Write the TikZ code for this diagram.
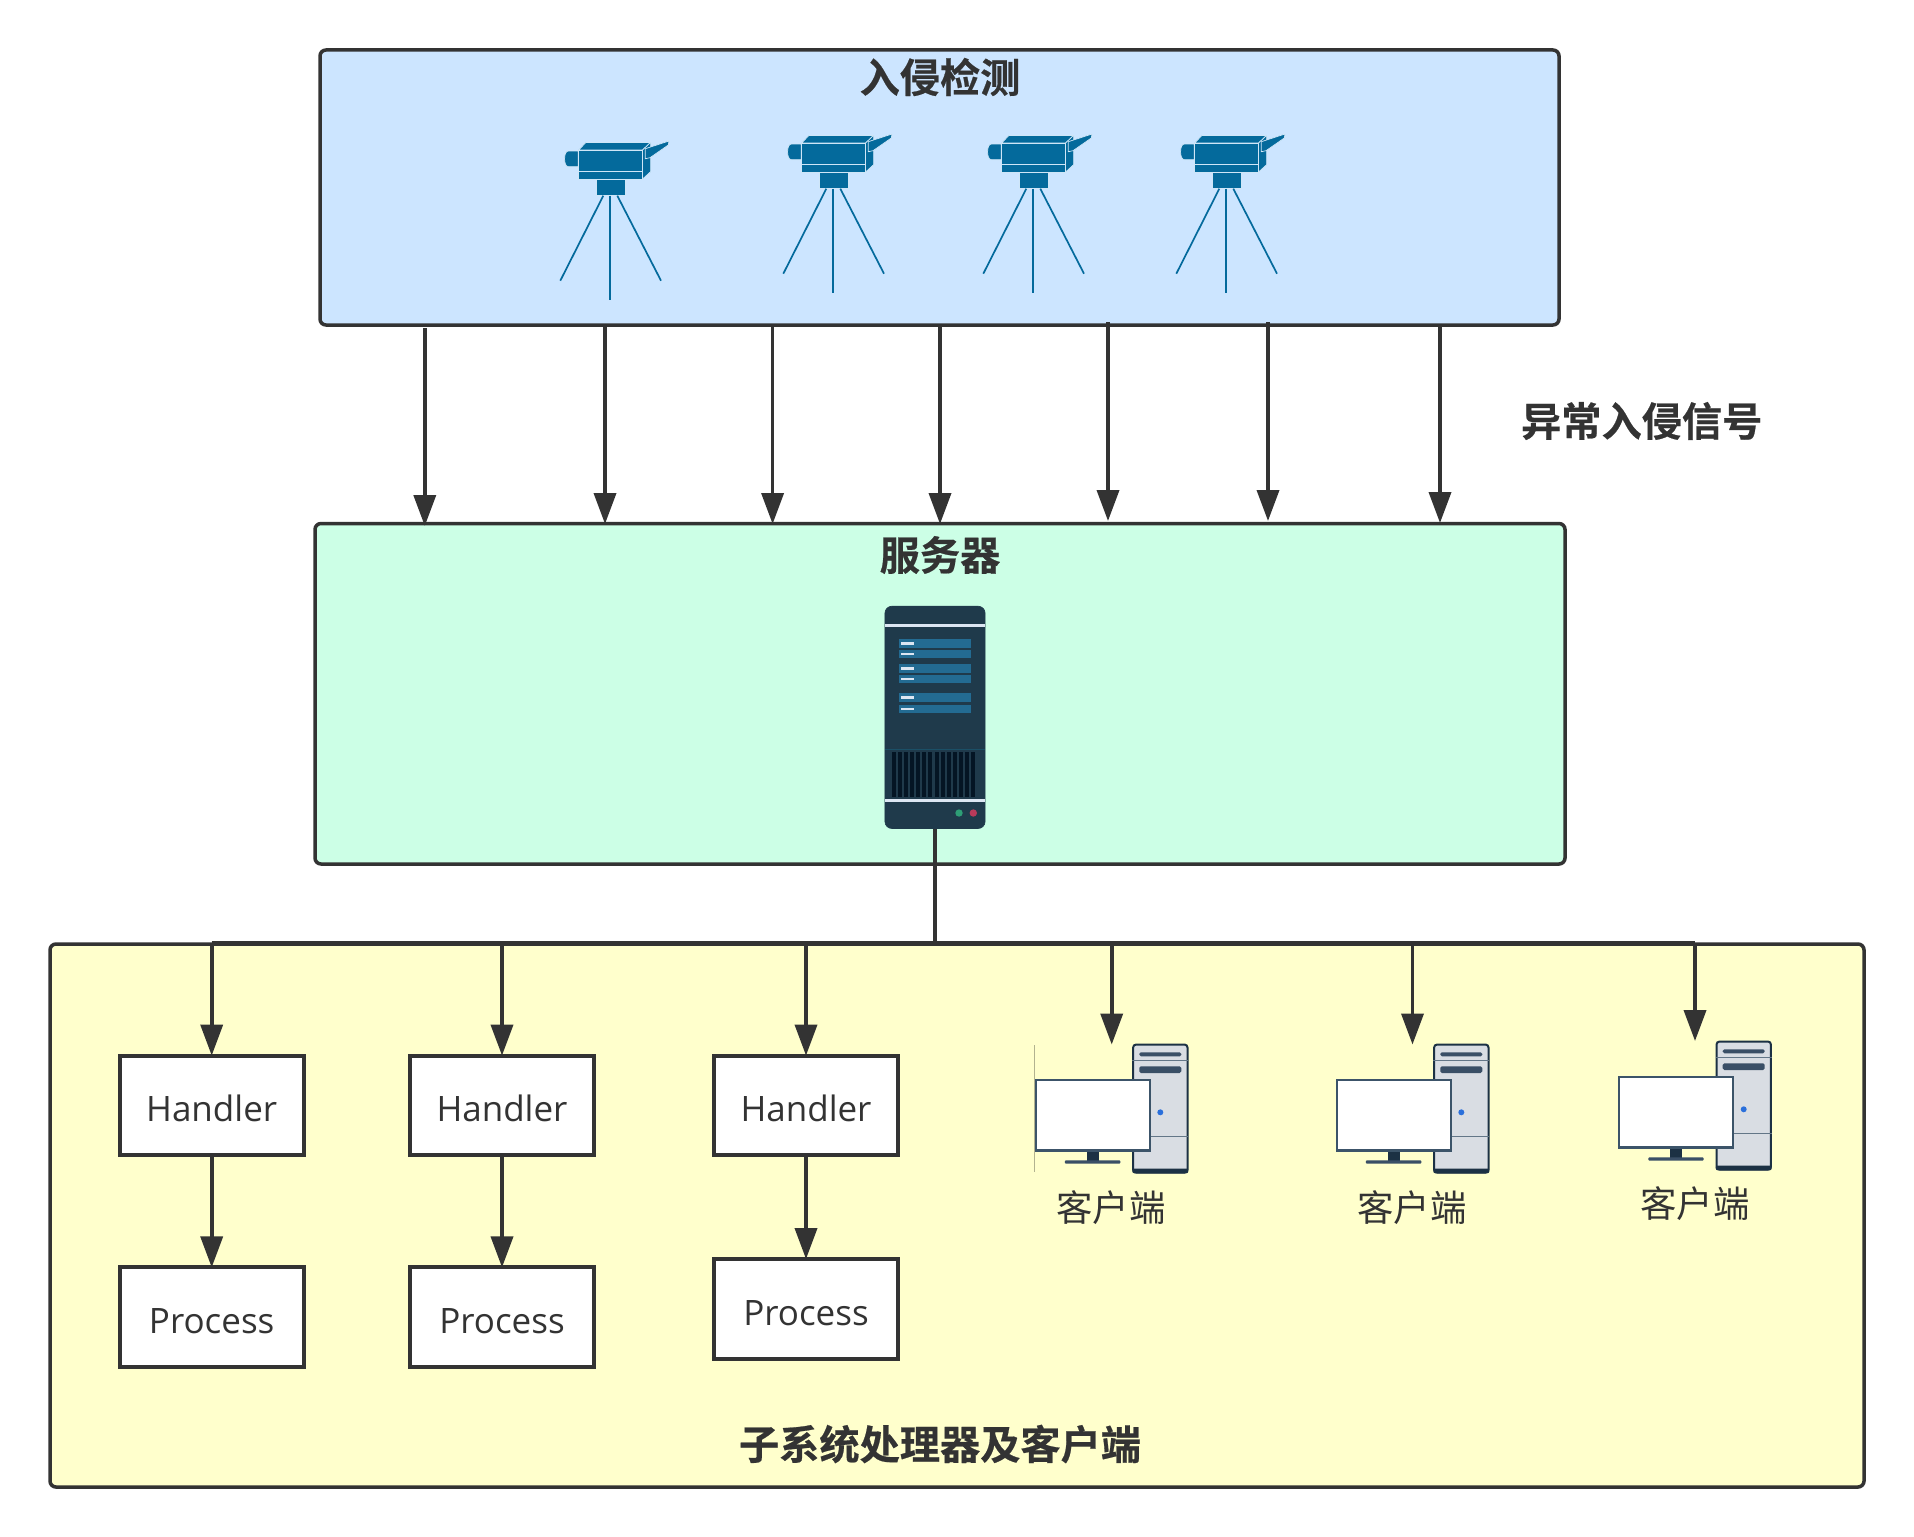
\documentclass[tikz,border=0pt]{standalone}
\usepackage{fontspec}
\setmainfont{Open Sans}
\newfontfamily\cjk[BoldFont={Noto Sans CJK SC Bold},BoldFeatures={FakeBold=0.5}]{Noto Sans CJK SC}
\usetikzlibrary{arrows.meta}
\definecolor{ink}{HTML}{333333}
\definecolor{detectfill}{HTML}{CCE5FF}
\definecolor{serverfill}{HTML}{CCFFE6}
\definecolor{subfill}{HTML}{FFFFCC}
\definecolor{cam}{HTML}{046A9C}
\definecolor{camline}{HTML}{CFE6F7}
\definecolor{srvbody}{HTML}{1F3A4B}
\definecolor{srvrow}{HTML}{236B92}
\definecolor{srvvent}{HTML}{041524}
\definecolor{srvline}{HTML}{1B4F66}
\definecolor{srvwhite}{HTML}{DCE6F2}
\definecolor{srvgreen}{HTML}{2E9E76}
\definecolor{srvred}{HTML}{B93A5A}
\definecolor{pcdark}{HTML}{1C3144}
\definecolor{pcslot}{HTML}{3A4F66}
\definecolor{pcbody}{HTML}{D9DDE3}
\definecolor{pcframe}{HTML}{3C5469}
\definecolor{pcled}{HTML}{2A6FDB}
\tikzset{
  panel/.style={draw=ink,line width=1.75pt,rounded corners=3pt,inner sep=0pt,outer sep=0pt},
  procbox/.style={draw=ink,line width=2pt,fill=white,inner sep=0pt,outer sep=0pt,minimum width=92pt,minimum height=49.9pt,text=ink,text height=16pt,text depth=0pt,font=\fontsize{17.5}{20}\selectfont},
  heading/.style={inner sep=0pt,text=ink,font=\cjk\bfseries\fontsize{20.1}{24}\selectfont},
  pclabel/.style={inner sep=0pt,text=ink,font=\cjk\fontsize{18.2}{22}\selectfont},
  flow/.style={draw=ink,line width=1.85pt,-{Triangle[length=15.5pt,width=11pt]}},
  bus/.style={draw=ink,line width=2.1pt},
  camera/.pic={
    \begin{scope}[draw=camline,line width=0.35pt,fill=cam]
      \filldraw (-32,-44.7) -- (-42,-44.7) .. controls (-47,-44.7) and (-47,-29) .. (-42,-29) -- (-32,-29) -- cycle;
      \filldraw (-31.7,-45.7) -- (-24.3,-53.3) -- (40.3,-53.3) -- (32.3,-45.7) -- cycle;
      \filldraw (32.3,-45.7) -- (40.3,-53.3) -- (40.3,-24) -- (32.3,-16.7) -- cycle;
      \filldraw (-31.7,-45.7) rectangle (32.3,-16.7);
      \draw (-31.7,-24.3) -- (32.3,-24.3);
      \filldraw (35,-47) -- (58.7,-54.7) -- (58,-50.7) -- (39.7,-38) -- (35,-37) -- cycle;
      \filldraw (-14.3,-16) rectangle (14.7,0);
    \end{scope}
    \begin{scope}[draw=cam,line width=0.85pt]
      \draw (0,0) -- (0,104.3);
      \draw (-7,0) -- (-50,85);
      \draw (7,0) -- (50.7,85);
    \end{scope}
  },
  clientpc/.pic={
    \draw[draw=pcdark,line width=1pt,fill=pcbody,rounded corners=1.5pt] (97.8,-34.5) rectangle (152.2,93.5);
    \fill[pcdark,rounded corners=1pt] (97,89.5) rectangle (153,94.3);
    \draw[pcframe!80,line width=0.5pt] (97,-18.3) -- (153,-18.3);
    \draw[pcframe!80,line width=0.5pt] (97,57.3) -- (153,57.3);
    \fill[pcslot,rounded corners=0.8pt] (104,-26.7) rectangle (146,-22.7);
    \fill[pcslot,rounded corners=0.8pt] (104,-12.7) rectangle (146,-6);
    \fill[pcled] (125,33.3) circle[radius=3];
    \fill[pcdark] (51.3,72) rectangle (63.6,81.5);
    \fill[pcslot,rounded corners=0.5pt] (29.6,81.3) rectangle (85,84.7);
    \draw[draw=pcframe,line width=1.1pt,fill=white] (0.6,0.6) rectangle (114.4,71.4);
  }
}
\begin{document}
\begin{tikzpicture}[x=0.5pt,y=-0.5pt]
\useasboundingbox[fill=white] (0,0) rectangle (1914,1536);

% panels
\node[panel,fill=detectfill,minimum width=619.5pt,minimum height=137.5pt] (detect) at (939.5,187.5) {};
\node[panel,fill=serverfill,minimum width=625pt,minimum height=170.25pt] (server) at (940,693.75) {};
\node[panel,fill=subfill,minimum width=907pt,minimum height=271.5pt] (subsys) at (957,1215.5) {};

% headings
\node[heading] (h1) at (940,77) {入侵检测};
\node[heading] (h2) at (940,555) {服务器};
\node[heading] (h3) at (1641.7,421) {异常入侵信号};
\node[heading] (h4) at (940,1444) {子系统处理器及客户端};

% cameras
\pic (cam1) at (610.3,195.7) {camera};
\pic (cam2) at (833.3,188.7) {camera};
\pic (cam3) at (1033.3,188.7) {camera};
\pic (cam4) at (1226.3,188.7) {camera};

% signal arrows
\foreach \i/\px/\ya/\yb in {1/424.8/328/526,2/605/325/524,3/772.6/325/524,4/940/325/524,5/1108/322/521,6/1268/322/521,7/1440/325/523}{
  \coordinate (sa\i) at (\px,\ya);
  \coordinate (sb\i) at (\px,\yb);
  \draw[flow] (sa\i) -- (sb\i);
}

% server rack
\draw[draw=srvbody,fill=srvbody,line width=0.3pt,rounded corners=3.5pt] (884.9,606.2) rectangle (985.1,828.5);
\fill[srvwhite] (884.7,624) rectangle (985.3,626.8);
\fill[srvwhite] (884.7,799.4) rectangle (985.3,802.2);
\fill[srvline] (884.7,748.5) rectangle (985.3,749.8);
\foreach \ya/\yb in {639/647.7,650/658.3,664/672.7,674.7/683.3,693.3/702,704.7/713}{
  \fill[srvrow] (899,\ya) rectangle (971,\yb);
  \fill[srvwhite] (901,{(\ya+\yb)/2-1.2}) rectangle (914,{(\ya+\yb)/2+1.2});
}
\foreach \k in {0,...,13}{
  \fill[srvvent] ({892+\k*6.08},751.7) rectangle ({896+\k*6.08},797);
}
\fill[srvgreen] (959,813) circle[radius=3.7];
\fill[srvred] (973.3,813) circle[radius=3.7];

% bus
\coordinate (srvout) at (935,828.7);
\coordinate (busmid) at (935,943);
\coordinate (busl) at (211.7,943);
\coordinate (busr) at (1695,943);
\draw[bus] (srvout) -- (busmid);
\draw[bus] (busl) -- (busr);

% handlers and processes
\node[procbox] (h-a) at (211.7,1105.5) {Handler};
\node[procbox] (p-a) at (211.7,1317.3) {Process};
\node[procbox] (h-b) at (502,1105.5) {Handler};
\node[procbox] (p-b) at (502,1317.3) {Process};
\node[procbox] (h-c) at (806,1105.5) {Handler};
\node[procbox] (p-c) at (806,1309) {Process};
\foreach \n/\px in {a/211.7,b/502,c/806}{
  \coordinate (t\n) at (\px,943);
  \draw[flow] (t\n) -- (h-\n.north);
  \draw[flow] (h-\n.south) -- (p-\n.north);
}

% clients
\pic (pc1) at (1035.3,1079) {clientpc};
\pic (pc2) at (1336.3,1079) {clientpc};
\pic (pc3) at (1618.7,1076) {clientpc};
\draw[draw=black!30!subfill,line width=0.4pt] (1034.3,1045) -- (1034.3,1172);
\node[pclabel] (c1) at (1110.8,1207.5) {客户端};
\node[pclabel] (c2) at (1412,1207.5) {客户端};
\node[pclabel] (c3) at (1695,1203.5) {客户端};
\foreach \n/\px/\py in {1/1111.7/1044.5,2/1412.5/1044.5,3/1695/1041}{
  \coordinate (ct\n) at (\px,943);
  \coordinate (cb\n) at (\px,\py);
  \draw[flow] (ct\n) -- (cb\n);
}
\end{tikzpicture}
\end{document}
